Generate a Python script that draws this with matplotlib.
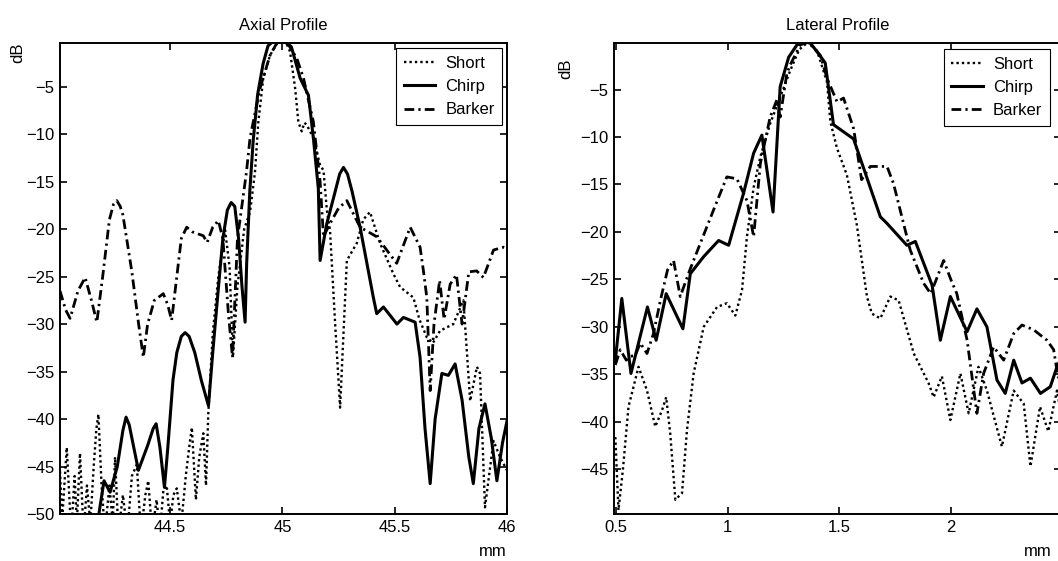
import matplotlib
matplotlib.use("Agg")
import matplotlib.pyplot as plt

plt.rcParams["font.family"] = ["Liberation Sans", "DejaVu Sans"]

# ---- Axial profile (mm, dB) ----
axial_short_x = [44.01, 44.02, 44.04, 44.06, 44.075, 44.085, 44.099, 44.115, 44.13, 44.145,
                 44.16, 44.172, 44.181, 44.195, 44.21, 44.23, 44.245, 44.255, 44.27, 44.29,
                 44.31, 44.33, 44.352, 44.37, 44.39, 44.403, 44.42, 44.44, 44.455, 44.47,
                 44.485, 44.50, 44.515, 44.53, 44.55, 44.57, 44.585, 44.597, 44.615, 44.63,
                 44.648, 44.66, 44.67, 44.69, 44.715, 44.745, 44.765, 44.78, 44.80, 44.83,
                 44.856, 44.878, 44.893, 44.915, 44.945, 44.98, 45.01, 45.034, 45.057, 45.071,
                 45.086, 45.098, 45.108, 45.138, 45.168, 45.183, 45.198, 45.212, 45.235, 45.257,
                 45.272, 45.287, 45.331, 45.36, 45.39, 45.435, 45.494, 45.524, 45.583, 45.61,
                 45.643, 45.67, 45.702, 45.761, 45.806, 45.836, 45.866, 45.88, 45.902, 45.94,
                 45.969, 46.0]
axial_short = [-45.5, -50.5, -43.0, -52, -46, -51, -43.6, -52, -47, -51,
               -45, -41, -39.5, -47, -52, -47, -51, -44.0, -52, -48,
               -52, -46, -44.8, -52, -48, -46.5, -52, -48.5, -52, -47.5,
               -47.0, -51, -48, -47.3, -51, -46, -43, -40.9, -48.5, -44,
               -41.5, -47, -39.5, -31, -25, -20.1, -24, -33.5, -26, -20,
               -18.2, -14.0, -8.7, -4.1, -1.7, -0.3, 0.0, -1.3, -5.2, -8.7,
               -9.7, -8.8, -9.0, -10.4, -13.3, -13.8, -18.0, -20.1, -30, -38.8,
               -31, -23.3, -21.5, -19, -18.2, -21.5, -24.7, -26.1, -27.2, -29.5,
               -31.4, -32, -30.7, -30.0, -27.5, -38.1, -34.5, -35.2, -49.3, -42.3,
               -44.0, -45.4]

axial_chirp_x = [44.17, 44.206, 44.233, 44.265, 44.29, 44.304, 44.318, 44.359, 44.40, 44.425,
                 44.438, 44.455, 44.475, 44.49, 44.513, 44.53, 44.55, 44.567, 44.585, 44.61,
                 44.64, 44.671, 44.69, 44.714, 44.735, 44.755, 44.772, 44.788, 44.805, 44.82,
                 44.834, 44.841, 44.855, 44.870, 44.89, 44.914, 44.936, 44.96, 45.0, 45.04,
                 45.079, 45.116, 45.138, 45.16, 45.168, 45.198, 45.23, 45.255, 45.272, 45.29,
                 45.31, 45.346, 45.405, 45.42, 45.45, 45.48, 45.51, 45.539, 45.591, 45.613,
                 45.635, 45.658, 45.68, 45.71, 45.739, 45.769, 45.80, 45.83, 45.85, 45.875,
                 45.902, 45.93, 45.955, 45.98, 46.0]
axial_chirp = [-52, -46.5, -47.7, -45, -41.2, -39.8, -40.6, -45.4, -42.8, -41,
               -40.5, -43, -47.2, -43, -35.9, -33, -31.3, -30.9, -31.3, -33,
               -36, -38.6, -33, -26.5, -21, -18, -17.2, -17.6, -21, -26,
               -29.8, -23.6, -16, -10.7, -5.8, -2.6, -0.7, -0.2, 0.0, -0.8,
               -4.1, -5.9, -10.4, -15.7, -23.3, -19.4, -16.5, -14.2, -13.5, -14.2,
               -16, -19.8, -27.2, -28.9, -28.2, -29.1, -30.0, -29.3, -29.8, -33.5,
               -41, -46.8, -40, -35.2, -35.4, -34.2, -38, -44, -46.8, -41,
               -38.4, -42, -46.5, -42.5, -40.2]

axial_barker_x = [44.01, 44.035, 44.055, 44.09, 44.122, 44.15, 44.174, 44.20, 44.23, 44.248,
                  44.263, 44.278, 44.29, 44.33, 44.36, 44.381, 44.40, 44.43, 44.47, 44.49,
                  44.507, 44.53, 44.55, 44.574, 44.60, 44.648, 44.665, 44.69, 44.715, 44.735,
                  44.76, 44.778, 44.80, 44.82, 44.84, 44.856, 44.90, 44.945, 44.98, 45.0,
                  45.03, 45.064, 45.094, 45.138, 45.168, 45.183, 45.21, 45.25, 45.287, 45.346,
                  45.42, 45.509, 45.569, 45.613, 45.628, 45.643, 45.658, 45.675, 45.70, 45.72,
                  45.747, 45.775, 45.80, 45.83, 45.865, 45.895, 45.94, 45.985, 46.0]
axial_barker = [-26.5, -28.5, -29.4, -26.5, -25.1, -27.5, -29.8, -25, -19, -17.4,
                -17.0, -17.6, -18.5, -24.5, -30, -33.5, -30, -27.5, -26.8, -28,
                -29.6, -25, -21, -19.8, -20.3, -20.7, -21.4, -19.8, -19.1, -21,
                -29, -33.5, -21, -17.5, -14, -10.4, -5.2, -1.7, -0.2, 0.0,
                -0.7, -2.0, -4.1, -8.7, -15.0, -20.8, -19.5, -17.8, -17.0, -19.8,
                -20.8, -23.6, -19.8, -21.9, -24.4, -27.2, -37.0, -30, -25.4, -29.5,
                -25.8, -24.8, -30, -24.5, -24.4, -25.1, -22.2, -21.9, -22]

# ---- Lateral profile (mm, dB) ----
lateral_short_x = [0.496, 0.51, 0.53, 0.555, 0.60, 0.638, 0.675, 0.705, 0.724, 0.742,
                   0.765, 0.795, 0.817, 0.847, 0.892, 0.952, 0.996, 1.034, 1.064, 1.086,
                   1.116, 1.146, 1.19, 1.235, 1.28, 1.32, 1.36, 1.40, 1.445, 1.46,
                   1.49, 1.534, 1.579, 1.624, 1.646, 1.684, 1.729, 1.766, 1.834, 1.90,
                   1.923, 1.96, 1.998, 2.043, 2.08, 2.124, 2.162, 2.229, 2.282, 2.327,
                   2.357, 2.40, 2.437, 2.476, 2.50]
lateral_short = [-41.6, -49.3, -45, -38.4, -34.2, -36.7, -40.5, -38.8, -37.4, -41.2,
                 -48.2, -47.5, -40.9, -34.9, -30.0, -27.9, -27.5, -28.8, -26.1, -20.5,
                 -15.3, -12.1, -8.6, -5.8, -3.0, -0.8, 0.0, -0.9, -4.2, -8.4,
                 -11.2, -14.0, -19.3, -26.8, -28.6, -29.1, -26.8, -27.2, -32.8, -35.9,
                 -37.4, -35.2, -39.8, -34.9, -39.1, -34.2, -36.7, -42.6, -36.7, -38.1,
                 -44.7, -38.4, -41.0, -36.7, -40]

lateral_chirp_x = [0.496, 0.525, 0.566, 0.64, 0.679, 0.724, 0.799, 0.832, 0.892, 0.959,
                   1.004, 1.071, 1.116, 1.153, 1.203, 1.235, 1.273, 1.31, 1.34, 1.37,
                   1.40, 1.437, 1.474, 1.564, 1.684, 1.714, 1.803, 1.841, 1.916, 1.953,
                   1.998, 2.073, 2.117, 2.162, 2.207, 2.244, 2.282, 2.319, 2.357, 2.402,
                   2.446, 2.476, 2.50]
lateral_chirp = [-33.5, -27.0, -34.9, -27.9, -31.4, -26.5, -30.2, -24.4, -22.6, -20.9,
                 -21.4, -15.9, -11.7, -9.8, -17.9, -4.7, -1.6, -0.3, 0.0, -0.1,
                 -1.0, -2.2, -8.7, -10.2, -18.4, -19.1, -21.4, -21.0, -25.6, -31.4,
                 -26.8, -30.5, -28.1, -30.0, -35.6, -37.0, -33.5, -35.9, -35.4, -37.0,
                 -36.3, -34.2, -33]

lateral_barker_x = [0.496, 0.518, 0.545, 0.563, 0.585, 0.608, 0.638, 0.667, 0.70, 0.73,
                    0.757, 0.787, 0.83, 0.877, 0.936, 0.996, 1.041, 1.086, 1.116, 1.146,
                    1.19, 1.22, 1.235, 1.265, 1.28, 1.325, 1.36, 1.415, 1.445, 1.49,
                    1.519, 1.564, 1.60, 1.639, 1.714, 1.743, 1.818, 1.878, 1.91, 1.968,
                    2.0, 2.027, 2.073, 2.117, 2.147, 2.192, 2.237, 2.282, 2.319, 2.371,
                    2.431, 2.461, 2.48, 2.50]
lateral_barker = [-34, -32.4, -33.5, -33.1, -33, -31.7, -32.8, -30.7, -27, -24,
                  -23.0, -26.8, -24, -21.2, -17.7, -14.2, -14.4, -16.7, -20.5, -12.8,
                  -7.9, -6.1, -7.9, -3.3, -2.4, -0.3, 0.0, -1.4, -3.8, -6.3,
                  -5.9, -9.1, -14.5, -13.1, -13.1, -14.9, -21.9, -25.4, -26.5, -23.0,
                  -25, -26.5, -31.4, -39.1, -34.9, -32.1, -33.5, -30.7, -29.8, -30.3,
                  -31.4, -32.4, -35.2, -36]

series_names = ["Short", "Chirp", "Barker"]
axial_xticks = [44.5, 45, 45.5, 46]
axial_xticklabels = ["44.5", "45", "45.5", "46"]
lateral_xticks = [0.5, 1, 1.5, 2]
lateral_xticklabels = ["0.5", "1", "1.5", "2"]
axial_yticks = [-50, -45, -40, -35, -30, -25, -20, -15, -10, -5]
lateral_yticks = [-45, -40, -35, -30, -25, -20, -15, -10, -5]

W, H = 1058, 561
fig = plt.figure(figsize=(W / 100, H / 100), dpi=100)
FS = 12


def style_axes(ax):
    for sp in ax.spines.values():
        sp.set_linewidth(1.4)
    ax.tick_params(direction="in", length=5, width=1.2, top=True, right=True,
                   labelsize=FS, pad=4)


def draw(ax, xs, ys, anchor):
    ax.plot(xs[0], ys[0], color="black", lw=1.7, linestyle=(0, (1, 1.3)), label=series_names[0])
    ax.plot(xs[1], ys[1], color="black", lw=2.2, linestyle="-", label=series_names[1])
    ax.plot(xs[2], ys[2], color="black", lw=2.0, linestyle=(0, (3.5, 1.5, 0.8, 1.5)),
            label=series_names[2])
    leg = ax.legend(loc="upper right", bbox_to_anchor=anchor, fontsize=FS, frameon=True,
                    fancybox=False, framealpha=1, edgecolor="black", handlelength=1.9,
                    handletextpad=0.6, borderpad=0.45, labelspacing=0.5, borderaxespad=0)
    leg.get_frame().set_linewidth(0.8)


# axial panel
ax1 = fig.add_axes([60 / W, 1 - 514 / H, 447 / W, 471 / H])
draw(ax1, [axial_short_x, axial_chirp_x, axial_barker_x],
     [axial_short, axial_chirp, axial_barker], (0.989, 0.989))
ax1.set_xlim(44.01, 46)
ax1.set_ylim(-50, -0.4)
ax1.set_xticks(axial_xticks)
ax1.set_xticklabels(axial_xticklabels)
ax1.set_yticks(axial_yticks)
ax1.set_title("Axial Profile", fontsize=FS, pad=9)
style_axes(ax1)

# lateral panel (runs past the right edge of the picture, as in the original)
ax2 = fig.add_axes([614 / W, 1 - 514 / H, 447 / W, 471 / H])
draw(ax2, [lateral_short_x, lateral_chirp_x, lateral_barker_x],
     [lateral_short, lateral_chirp, lateral_barker], (0.975, 0.987))
ax2.set_xlim(0.49, 2.494)
ax2.set_ylim(-49.7, -0.1)
ax2.set_xticks(lateral_xticks)
ax2.set_xticklabels(lateral_xticklabels)
ax2.set_yticks(lateral_yticks)
ax2.set_title("Lateral Profile", fontsize=FS, pad=9)
style_axes(ax2)

fig.text(18 / W, 1 - 53 / H, "dB", rotation=90, ha="center", va="center", fontsize=FS)
fig.text(566 / W, 1 - 69 / H, "dB", rotation=90, ha="center", va="center", fontsize=FS)
fig.text(493 / W, 1 - 552 / H, "mm", ha="center", va="center", fontsize=FS)
fig.text(1038 / W, 1 - 552 / H, "mm", ha="center", va="center", fontsize=FS)

fig.savefig("out.png", dpi=100)
